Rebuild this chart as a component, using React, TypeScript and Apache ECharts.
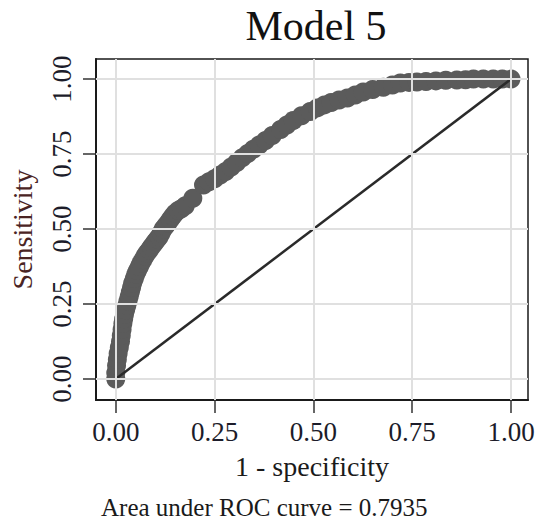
import React, { useEffect, useRef } from "react";
import * as echarts from "echarts";

const fpr = [
  0, 0, 0.002, 0.004, 0.006, 0.009, 0.012, 0.014, 0.016, 0.018,
  0.02, 0.022, 0.025, 0.028, 0.031, 0.034, 0.037, 0.04, 0.043, 0.047,
  0.051, 0.055, 0.06, 0.064, 0.069, 0.074, 0.079, 0.085, 0.09, 0.096,
  0.1, 0.105, 0.11, 0.115, 0.12, 0.126, 0.132, 0.138, 0.144, 0.15,
  0.158, 0.166, 0.176, 0.195, 0.222, 0.236, 0.25, 0.264, 0.278, 0.292,
  0.306, 0.32, 0.334, 0.348, 0.363, 0.379, 0.396, 0.417, 0.433, 0.449,
  0.47, 0.492, 0.51, 0.528, 0.545, 0.565, 0.586, 0.606, 0.626, 0.65,
  0.677, 0.7, 0.72, 0.742, 0.762, 0.785, 0.81, 0.835, 0.863, 0.885,
  0.905, 0.93, 0.955, 0.978, 1.0,
];
const tpr = [
  0, 0.02, 0.045, 0.065, 0.085, 0.105, 0.125, 0.145, 0.165, 0.185,
  0.2, 0.215, 0.23, 0.245, 0.26, 0.275, 0.29, 0.305, 0.32, 0.335,
  0.35, 0.362, 0.375, 0.387, 0.398, 0.41, 0.42, 0.43, 0.44, 0.45,
  0.458, 0.466, 0.474, 0.487, 0.5, 0.51, 0.52, 0.532, 0.543, 0.553,
  0.562, 0.568, 0.578, 0.603, 0.647, 0.658, 0.668, 0.68, 0.692, 0.707,
  0.722, 0.738, 0.752, 0.766, 0.78, 0.795, 0.812, 0.832, 0.847, 0.862,
  0.878, 0.892, 0.904, 0.914, 0.922, 0.93, 0.937, 0.947, 0.957, 0.965,
  0.973, 0.98, 0.987, 0.989, 0.99, 0.992, 0.994, 0.996, 0.997, 0.998,
  1.0, 1.0, 1.0, 1.0, 1.0,
];
const diagonal = [
  [0, 0],
  [1, 1],
];
const tickValues = [0, 0.25, 0.5, 0.75, 1];
const tickLabels = ["0.00", "0.25", "0.50", "0.75", "1.00"];

const TITLE = "Model 5";
const X_NAME = "1 - specificity";
const Y_NAME = "Sensitivity";
const NOTE = "Area under ROC curve = 0.7935";

const SERIF = "Liberation Serif";

export default function App() {
  const ref = useRef<HTMLDivElement>(null);
  useEffect(() => {
    document.body.style.margin = "0";
    if (!ref.current) return;
    const chart = echarts.init(ref.current, undefined, { renderer: "svg" });
    const points = fpr.map((x, i) => [x, tpr[i]]);
    const fmt = (v: number) => {
      const i = tickValues.findIndex((t) => Math.abs(t - v) < 1e-9);
      return i >= 0 ? tickLabels[i] : "";
    };
    const labelStyle = {
      fontFamily: SERIF,
      fontSize: 27,
      color: "#1c1c2a",
    };
    chart.setOption({
      animation: false,
      backgroundColor: "#ffffff",
      title: [
        {
          text: TITLE,
          left: 311,
          top: 0,
          textAlign: "center",
          textStyle: {
            fontFamily: SERIF,
            fontSize: 42,
            fontWeight: "normal",
            color: "#111",
          },
        },
      ],
      grid: {
        left: 95,
        top: 59,
        width: 433,
        height: 341,
        show: true,
        borderColor: "#1a1a1a",
        borderWidth: 1.5,
        backgroundColor: "#ffffff",
      },
      xAxis: {
        type: "value",
        min: -0.05,
        max: 1.043,
        name: X_NAME,
        nameLocation: "middle",
        nameGap: 52,
        nameTextStyle: { fontFamily: SERIF, fontSize: 28, color: "#1a1a1a" },
        axisLine: { show: true, onZero: false, lineStyle: { color: "#1a1a1a", width: 2 } },
        axisTick: {
          show: true,
          length: 13,
          customValues: tickValues,
          lineStyle: { color: "#333", width: 1.5 },
        },
        axisLabel: {
          customValues: tickValues,
          formatter: fmt,
          margin: 18,
          ...labelStyle,
        },
        splitLine: { show: false },
      },
      yAxis: {
        type: "value",
        min: -0.07,
        max: 1.067,
        name: Y_NAME,
        nameLocation: "middle",
        nameRotate: 90,
        nameGap: 60,
        nameTextStyle: { fontFamily: SERIF, fontSize: 28, color: "#4a2424" },
        axisLine: { show: true, onZero: false, lineStyle: { color: "#1a1a1a", width: 2 } },
        axisTick: {
          show: true,
          length: 13,
          customValues: tickValues,
          lineStyle: { color: "#333", width: 1.5 },
        },
        axisLabel: {
          customValues: tickValues,
          formatter: fmt,
          rotate: 90,
          margin: 21,
          ...labelStyle,
        },
        splitLine: { show: false },
      },
      graphic: [
        {
          type: "text",
          left: 101,
          top: 495,
          style: {
            text: NOTE,
            font: `25px "${SERIF}"`,
            fill: "#1a1a1a",
          },
        },
      ],
      series: [
        {
          type: "line",
          data: [],
          z: 1,
          silent: true,
          markLine: {
            silent: true,
            symbol: "none",
            label: { show: false },
            animation: false,
            lineStyle: { color: "#e0e0e0", width: 2, type: "solid" },
            data: [
              ...tickValues.map((v) => ({ xAxis: v })),
              ...tickValues.map((v) => ({ yAxis: v })),
            ],
          },
        },
        {
          type: "scatter",
          data: points,
          z: 2,
          symbol: "circle",
          symbolSize: 19,
          itemStyle: { color: "#5b5b5b", opacity: 1 },
        },
        {
          type: "line",
          data: diagonal,
          z: 3,
          symbol: "none",
          lineStyle: { color: "#2a2a2a", width: 2.5 },
        },
      ],
    });
    return () => chart.dispose();
  }, []);
  return <div ref={ref} style={{ width: 538, height: 529 }} />;
}
